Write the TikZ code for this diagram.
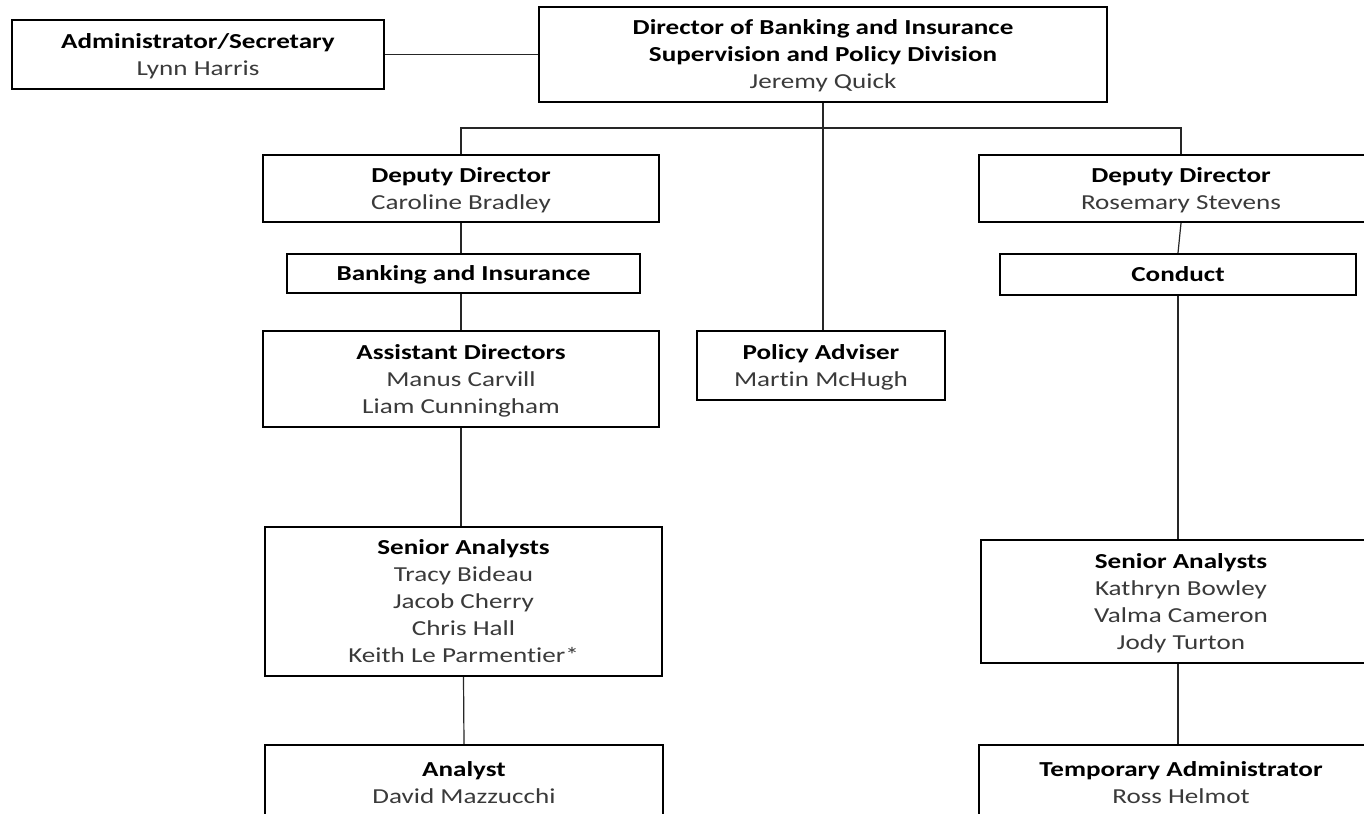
\documentclass[tikz,border=0pt]{standalone}
\usepackage{fontspec}
\setmainfont{Carlito}[FakeStretch=1.27, Ligatures={NoCommon,NoRare}]
\definecolor{namegray}{HTML}{3A3A3A}
\newcommand\pname[1]{{\color{namegray}#1}}
\newcommand\ttl[1]{\rule{0pt}{15pt}\textbf{#1}}
\newcommand\lastdp{\rule[-4pt]{0pt}{4pt}}
\tikzset{
  orgbox/.style={draw=black, line width=1.7pt, fill=white, inner sep=0pt, align=center,
    font=\fontsize{16pt}{20.2pt}\selectfont},
  link/.style={draw=black!85, line width=0.9pt},
}
\begin{document}
\begin{tikzpicture}[x=0.75pt,y=-0.75pt]
\useasboundingbox (0,0) rectangle (1364,814);
\clip (0,0) rectangle (1364,814);
\fill[white] (0,0) rectangle (1364,814);
% boxes: centre (x,y), width, height in px
\node[orgbox, minimum width=372*0.75pt, minimum height=69*0.75pt] (adm) at (198,54.5)
  {\ttl{Administrator/Secretary}\\\pname{Lynn Harris}\lastdp};
\node[orgbox, minimum width=568*0.75pt, minimum height=95*0.75pt] (dir) at (823,54.5)
  {\ttl{Director of Banking and Insurance}\\\textbf{Supervision and Policy Division}\\\pname{Jeremy Quick}\lastdp};
\node[orgbox, minimum width=396*0.75pt, minimum height=67*0.75pt] (depL) at (461,188.5)
  {\ttl{Deputy Director}\\\pname{Caroline Bradley}\lastdp};
\node[orgbox, minimum width=353*0.75pt, minimum height=39*0.75pt] (bi) at (463.5,273.5)
  {\ttl{Banking and Insurance}\lastdp};
\node[orgbox, minimum width=396*0.75pt, minimum height=96*0.75pt] (ad) at (461,379)
  {\ttl{Assistant Directors}\\\pname{Manus Carvill}\\\pname{Liam Cunningham}\lastdp};
\node[orgbox, minimum width=397*0.75pt, minimum height=149*0.75pt] (saL) at (463.5,601.5)
  {\ttl{Senior Analysts}\\\pname{Tracy Bideau}\\\pname{Jacob Cherry}\\\pname{Chris Hall}\\\pname{Keith Le Parmentier*}\lastdp};
\node[orgbox, minimum width=398*0.75pt, minimum height=76*0.75pt] (an) at (464,783)
  {\ttl{Analyst}\\\pname{David Mazzucchi}\lastdp};
\node[orgbox, minimum width=248*0.75pt, minimum height=69*0.75pt] (pol) at (821,365.5)
  {\ttl{Policy Adviser}\\\pname{Martin McHugh}\lastdp};
\node[orgbox, minimum width=404*0.75pt, minimum height=67*0.75pt] (depR) at (1181,188.5)
  {\ttl{Deputy Director}\\\pname{Rosemary Stevens}\lastdp};
\node[orgbox, minimum width=356*0.75pt, minimum height=41*0.75pt] (con) at (1178,274.5)
  {\ttl{Conduct}\lastdp};
\node[orgbox, minimum width=400*0.75pt, minimum height=123*0.75pt] (saR) at (1181,601.5)
  {\ttl{Senior Analysts}\\\pname{Kathryn Bowley}\\\pname{Valma Cameron}\\\pname{Jody Turton}\lastdp};
\node[orgbox, minimum width=404*0.75pt, minimum height=76*0.75pt] (ta) at (1181,783)
  {\ttl{Temporary Administrator}\\\pname{Ross Helmot}\lastdp};
% connectors
\coordinate (busL) at (461,128);
\coordinate (busR) at (1181,128);
\draw[link] (adm.east) -- (dir.west);
\draw[link] (dir.south) -- (pol.north -| dir.south);
\draw[link] (depL.north) -- (busL) -- (busR) -- (depR.north);
\draw[link] (depL.south) -- (bi.north -| depL.south);
\draw[link] (bi.south -| ad.north) -- (ad.north);
\draw[link] (ad.south) -- (saL.north -| ad.south);
\draw[link] (saL.south) -- (an.north);
\draw[link] (depR.south) -- (con.north);
\draw[link] (con.south) -- (saR.north -| con.south);
\draw[link] (saR.south -| con.south) -- (ta.north -| con.south);
\end{tikzpicture}
\end{document}
